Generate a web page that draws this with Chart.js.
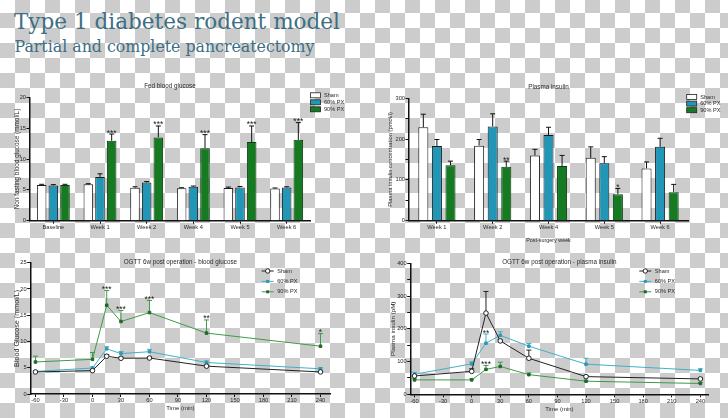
<!DOCTYPE html>
<html>
<head>
<meta charset="utf-8">
<title>Type 1 diabetes rodent model</title>
<script src="https://cdn.jsdelivr.net/npm/chart.js@4.4.0/dist/chart.umd.min.js"></script>
<style>
  html, body { margin: 0; padding: 0; }
  body {
    width: 728px; height: 418px; overflow: hidden; position: relative;
    background-color: #fff;
    background-image: repeating-conic-gradient(#cccccc 0 25%, #ffffff 0 50%);
    background-size: 30px 30px;
    background-position: 0 -2px;
  }
  svg, canvas { position: absolute; }
  #head { left: 0; top: 0; }
  #fed { left: 0; top: 76px; }
  #ins { left: 370px; top: 76px; }
  #ogttGlu { left: 0; top: 252px; }
  #ogttIns { left: 370px; top: 252px; }
</style>
</head>
<body>
<svg id="head" width="728" height="70">
  <text x="14" y="28.5" font-family="DejaVu Serif" font-size="22" fill="#3d6f84" textLength="326" lengthAdjust="spacingAndGlyphs">Type 1 diabetes rodent model</text>
  <text x="14.5" y="51.7" font-family="DejaVu Serif" font-size="17" fill="#3d6f84" textLength="300" lengthAdjust="spacingAndGlyphs">Partial and complete pancreatectomy</text>
</svg>
<canvas id="fed" width="360" height="172"></canvas>
<canvas id="ins" width="358" height="172"></canvas>
<canvas id="ogttGlu" width="360" height="166"></canvas>
<canvas id="ogttIns" width="358" height="166"></canvas>
<script>
// ---- data ----
const groups = ['Sham', '60% PX', '90% PX'];

// fed blood glucose (mmol/L)
const fedWeeks = ['Baseline', 'Week 1', 'Week 2', 'Week 4', 'Week 5', 'Week 6'];
const fedSham = [5.8, 5.9, 5.35, 5.25, 5.3, 5.2];
const fed60 = [5.7, 7.1, 6.2, 5.5, 5.4, 5.4];
const fed90 = [5.8, 12.95, 13.5, 11.75, 12.75, 13.1];
const fedShamErr = [0.1, 0.1, 0.15, 0.1, 0.15, 0.1];
const fed60Err = [0.15, 0.5, 0.15, 0.12, 0.15, 0.1];
const fed90Err = [0.1, 1.1, 1.85, 2.2, 2.6, 2.8];
const fed90Stars = ['', '***', '***', '***', '***', '***'];

// plasma insulin (pmol/l)
const insWeeks = ['Week 1', 'Week 2', 'Week 4', 'Week 5', 'Week 6'];
const insSham = [229, 184, 160, 154, 128];
const ins60 = [183, 231, 210, 141, 181];
const ins90 = [136, 132, 134, 65, 70];
const insShamErr = [32, 15, 15, 27, 16];
const ins60Err = [16, 31, 19, 16, 21];
const ins90Err = [10, 14, 26, 14, 19];
const ins90Stars = ['', '**', '', '*', ''];

// OGTT, time in minutes
const times = [-60, 0, 15, 30, 60, 120, 240];
const timeTicks = [-60, -30, 0, 30, 60, 90, 120, 150, 180, 210, 240];

const gluSham = [4.2, 4.45, 7.2, 6.8, 6.85, 5.3, 4.2];
const glu60 = [4.3, 4.95, 8.6, 7.7, 8.05, 6.0, 4.8];
const glu90 = [6.1, 6.6, 16.9, 13.8, 15.5, 11.6, 9.1];
const gluShamErr = [0.1, 0.15, 0.3, 0.2, 0.2, 0.2, 0.15];
const glu60Err = [0.1, 0.2, 0.4, 0.4, 0.45, 0.3, 0.2];
const glu90Err = [1.1, 1.3, 2.8, 2.1, 2.3, 2.5, 2.4];
const glu90Stars = ['', '', '***', '***', '***', '**', '*'];

const oinSham = [56, 70, 248, 163, 110, 54, 47];
const oin60 = [61, 93, 156, 180, 147, 92, 73];
const oin90 = [44, 44, 76, 85, 60, 40, 33];
const oinShamErr = [3, 8, 66, 4, 25, 3, 3];
const oin60Err = [6, 6, 28, 11, 8, 18, 5];
const oin90Err = [3, 3, 12, 13, 5, 3, 3];
const oin60Stars = ['', '', '**', '', '', '', ''];
const oin90Stars = ['', '', '***', '', '', '', ''];

// ---- styling ----
const TEAL = '#2196b6';
const GREEN = '#167a22';
const TXT = '#2a2a2a';
const FONT = 'Liberation Sans';

Chart.defaults.font.family = FONT;
Chart.defaults.font.size = 5.7;
Chart.defaults.color = TXT;

function pts(vals) {
  return times.map((t, i) => ({ x: t, y: vals[i] }));
}

// error bars (up only), significance stars, title and legend
const extras = {
  id: 'extras',
  beforeDatasetsDraw(chart) {
    const ctx = chart.ctx;
    const ys = chart.scales.y;
    ctx.save();
    chart.data.datasets.forEach((ds, i) => {
      if (!ds.errors) return;
      const meta = chart.getDatasetMeta(i);
      meta.data.forEach((el, j) => {
        const raw = ds.data[j];
        const v = typeof raw === 'object' ? raw.y : raw;
        const err = ds.errors[j] || 0;
        const top = ys.getPixelForValue(v + err);
        if (err) {
          ctx.strokeStyle = ds.errorColor || '#111';
          ctx.lineWidth = 1;
          ctx.beginPath();
          ctx.moveTo(el.x, el.y);
          ctx.lineTo(el.x, top);
          ctx.moveTo(el.x - 2.5, top);
          ctx.lineTo(el.x + 2.5, top);
          ctx.stroke();
        }
        const star = ds.stars && ds.stars[j];
        if (star) {
          ctx.fillStyle = '#222';
          ctx.font = '8.5px "' + FONT + '"';
          ctx.textAlign = 'center';
          ctx.textBaseline = 'alphabetic';
          ctx.fillText(star, el.x, top + 1.5);
        }
      });
    });
    ctx.restore();
  },
  afterDraw(chart, args, opts) {
    const ctx = chart.ctx;
    const area = chart.chartArea;
    ctx.save();
    ctx.fillStyle = TXT;
    ctx.textBaseline = 'middle';
    if (opts.title) {
      ctx.font = '6.3px "' + FONT + '"';
      ctx.textAlign = 'center';
      ctx.fillText(opts.title, (area.left + area.right) / 2, opts.titleY);
    }
    const lg = opts.legend;
    if (lg) {
      chart.data.datasets.forEach((ds, i) => {
        const y = lg.y + i * lg.dy;
        ctx.font = '5.6px "' + FONT + '"';
        ctx.textAlign = 'left';
        if (lg.kind === 'box') {
          ctx.fillStyle = ds.backgroundColor;
          ctx.fillRect(lg.x, y - 2.5, 10, 5);
          ctx.strokeStyle = '#222';
          ctx.lineWidth = 0.8;
          ctx.strokeRect(lg.x, y - 2.5, 10, 5);
          ctx.fillStyle = TXT;
          ctx.fillText(ds.label, lg.x + 13.5, y);
        } else {
          ctx.strokeStyle = ds.borderColor;
          ctx.lineWidth = 1;
          ctx.beginPath();
          ctx.moveTo(lg.x, y);
          ctx.lineTo(lg.x + 12, y);
          ctx.stroke();
          ctx.fillStyle = ds.pointBackgroundColor;
          ctx.strokeStyle = ds.pointBorderColor;
          if (ds.pointStyle === 'circle') {
            ctx.beginPath();
            ctx.arc(lg.x + 6, y, 2.2, 0, Math.PI * 2);
            ctx.fill();
            ctx.stroke();
          } else {
            ctx.fillRect(lg.x + 4.5, y - 1.5, 3, 3);
          }
          ctx.fillStyle = TXT;
          ctx.fillText(ds.label, lg.x + 15.5, y);
        }
      });
    }
    ctx.restore();
  }
};

function yAxis(min, max, step, width, text, titleSize, titlePad, every) {
  return {
    min: min, max: max,
    border: { color: '#111', width: 1.5 },
    grid: { drawOnChartArea: false, tickLength: 3.5, color: '#111', lineWidth: 1 },
    ticks: {
      stepSize: step, padding: 0.5,
      callback: v => (v % every === 0 ? v : '')
    },
    title: { display: true, text: text, font: { size: titleSize }, padding: { top: titlePad, bottom: 0 } },
    afterFit: s => { s.width = width; }
  };
}

function catAxis(height, text) {
  const ax = {
    border: { color: '#111', width: 1.5 },
    grid: { drawOnChartArea: false, offset: false, tickLength: 3, color: '#111', lineWidth: 1 },
    ticks: { padding: 0 },
    afterFit: s => { s.height = height; }
  };
  if (text) ax.title = { display: true, text: text, font: { size: 5.4 }, padding: { top: 0, bottom: 0.8 } };
  return ax;
}

function timeAxis(min, max) {
  return {
    type: 'linear', min: min, max: max,
    border: { color: '#111', width: 1.5 },
    grid: { drawOnChartArea: false, tickLength: 3, color: '#111', lineWidth: 1 },
    ticks: { padding: 0.5 },
    afterBuildTicks: s => { s.ticks = timeTicks.map(v => ({ value: v })); },
    title: { display: true, text: 'Time (min)', font: { size: 6 }, padding: { top: 0, bottom: 3.6 } },
    afterFit: s => { s.height = 22; }
  };
}

const common = {
  responsive: false,
  animation: false,
  devicePixelRatio: 1,
  events: []
};

function barSet(label, data, err, bg, border, stars) {
  return {
    label: label, data: data, errors: err, stars: stars,
    backgroundColor: bg, borderColor: border, borderWidth: 1,
    errorColor: '#111', borderSkipped: 'bottom'
  };
}

function lineSet(label, vals, err, line, pointFill, pointBorder, style, radius, stars) {
  return {
    label: label, data: pts(vals), errors: err, stars: stars,
    borderColor: line, borderWidth: 1, errorColor: line,
    pointStyle: style, pointRadius: radius,
    pointBackgroundColor: pointFill, pointBorderColor: pointBorder, pointBorderWidth: 1
  };
}

// ---- fed blood glucose ----
new Chart(document.getElementById('fed'), {
  type: 'bar',
  data: {
    labels: fedWeeks,
    datasets: [
      barSet(groups[0], fedSham, fedShamErr, '#ffffff', '#1a1a1a'),
      barSet(groups[1], fed60, fed60Err, TEAL, '#1a1a1a'),
      barSet(groups[2], fed90, fed90Err, GREEN, '#0d3d12', fed90Stars)
    ].map(d => Object.assign(d, { categoryPercentage: 0.75, barPercentage: 0.82 }))
  },
  options: Object.assign({}, common, {
    layout: { padding: { left: 0, top: 21.3, right: 50, bottom: 13.3 } },
    scales: {
      x: catAxis(14),
      y: yAxis(0, 20, 5, 30, 'Non fasting blood glucose (mmol/L)', 6.4, 13.4, 5)
    },
    plugins: {
      legend: { display: false },
      tooltip: { enabled: false },
      extras: { title: 'Fed blood glucose', titleY: 10.7, legend: { kind: 'box', x: 310.5, y: 19.3, dy: 7 } }
    }
  }),
  plugins: [extras]
});

// ---- plasma insulin ----
new Chart(document.getElementById('ins'), {
  type: 'bar',
  data: {
    labels: insWeeks,
    datasets: [
      barSet(groups[0], insSham, insShamErr, '#ffffff', '#1a1a1a'),
      barSet(groups[1], ins60, ins60Err, TEAL, '#1a1a1a'),
      barSet(groups[2], ins90, ins90Err, GREEN, '#0d3d12', ins90Stars)
    ].map(d => Object.assign(d, { categoryPercentage: 0.73, barPercentage: 0.74 }))
  },
  options: Object.assign({}, common, {
    layout: { padding: { left: 0, top: 22.3, right: 40, bottom: 3.3 } },
    scales: {
      x: catAxis(24, 'Post-surgery week'),
      y: yAxis(0, 300, 50, 39, 'Plasma insulin concentration (pmol/l)', 5.8, 17.4, 100)
    },
    plugins: {
      legend: { display: false },
      tooltip: { enabled: false },
      extras: { title: 'Plasma insulin', titleY: 11.3, legend: { kind: 'box', x: 316.7, y: 21, dy: 6.6 } }
    }
  }),
  plugins: [extras]
});

// ---- OGTT blood glucose ----
new Chart(document.getElementById('ogttGlu'), {
  type: 'line',
  data: {
    datasets: [
      lineSet(groups[0], gluSham, gluShamErr, '#222222', '#ffffff', '#222222', 'circle', 2.3),
      lineSet(groups[1], glu60, glu60Err, '#3fb0c9', '#2a9ab5', '#2a9ab5', 'rect', 1.8),
      lineSet(groups[2], glu90, glu90Err, '#3e9b48', '#1d6a27', '#1d6a27', 'rect', 1.8, glu90Stars)
    ]
  },
  options: Object.assign({}, common, {
    layout: { padding: { left: 0, top: 10.7, right: 30, bottom: 2 } },
    scales: {
      x: timeAxis(-65, 250),
      y: yAxis(0, 25, 5, 30.7, 'Blood Glucose (mmol/L)', 7.2, 12.8, 5)
    },
    plugins: {
      legend: { display: false },
      tooltip: { enabled: false },
      extras: { title: 'OGTT 6w post operation - blood glucose', titleY: 10.7, legend: { kind: 'line', x: 261.7, y: 19, dy: 10.4 } }
    }
  }),
  plugins: [extras]
});

// ---- OGTT plasma insulin ----
new Chart(document.getElementById('ogttIns'), {
  type: 'line',
  data: {
    datasets: [
      lineSet(groups[0], oinSham, oinShamErr, '#222222', '#ffffff', '#222222', 'circle', 2.3),
      lineSet(groups[1], oin60, oin60Err, '#3fb0c9', '#2a9ab5', '#2a9ab5', 'rect', 1.8, oin60Stars),
      lineSet(groups[2], oin90, oin90Err, '#3e9b48', '#1d6a27', '#1d6a27', 'rect', 1.8, oin90Stars)
    ]
  },
  options: Object.assign({}, common, {
    layout: { padding: { left: 0, top: 11.3, right: 20, bottom: 1.7 } },
    scales: {
      x: timeAxis(-64, 248),
      y: yAxis(0, 400, 50, 40.7, 'Plasma insulin (pM)', 6.2, 19.5, 100)
    },
    plugins: {
      legend: { display: false },
      tooltip: { enabled: false },
      extras: { title: 'OGTT 6w post operation - plasma insulin', titleY: 10.7, legend: { kind: 'line', x: 269.3, y: 19, dy: 10.4 } }
    }
  }),
  plugins: [extras]
});
</script>
</body>
</html>
